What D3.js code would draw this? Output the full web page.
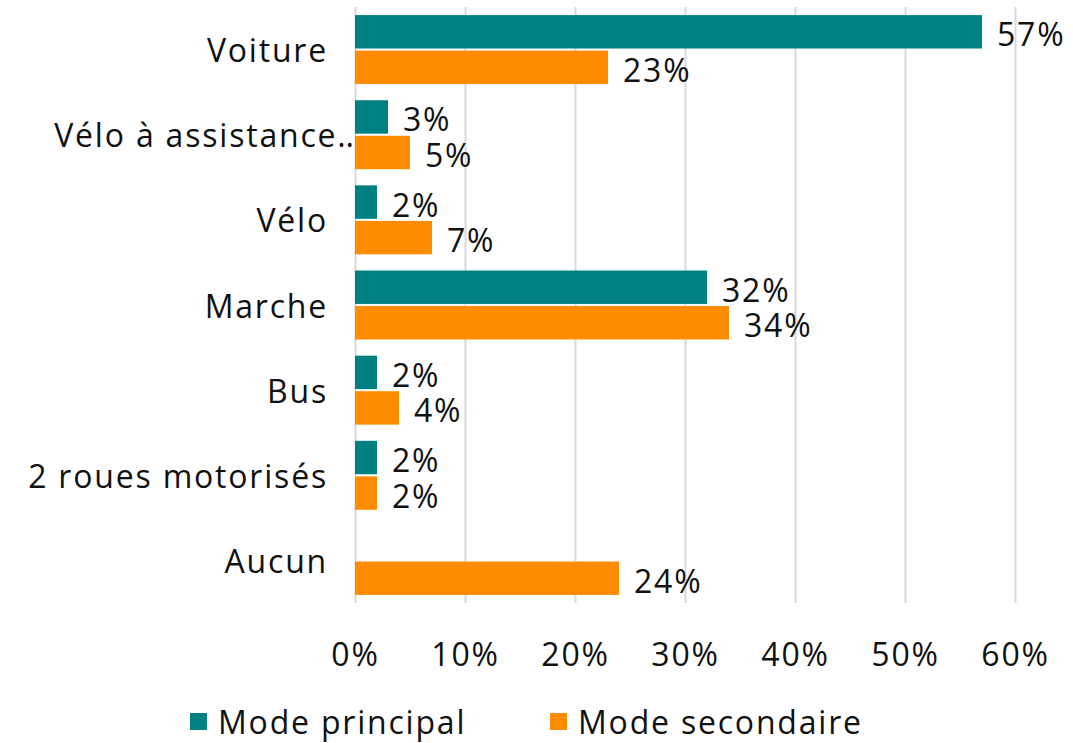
<!DOCTYPE html>
<html lang="fr">

<head>
  <meta charset="UTF-8">
  <script src="https://d3js.org/d3.v7.min.js"></script>
  <style>
    html, body {
      padding: 0px;
      margin: 0px;
      background-color: white;
    }

    svg text {
      font-family: "Century Gothic", "URW Gothic", "Open Sans", sans-serif;
      font-size: 32px;
      letter-spacing: 1.8px;
      fill: #111;
    }

    .gridlines .tick line {
      stroke: #d9d9d9;
      stroke-width: 2;
    }
  </style>
</head>

<body>
  <svg id="plot-svg" height="743" width="1073"></svg>

  <script>
    // data
    const categories = ["Voiture", "Vélo à assistance…", "Vélo", "Marche", "Bus", "2 roues motorisés", "Aucun"];
    const principal = [57, 3, 2, 32, 2, 2, null];
    const secondaire = [23, 5, 7, 34, 4, 2, 24];
    const seriesNames = ["Mode principal", "Mode secondaire"];
    const seriesColors = ["#008080", "#ff8c00"];
    const xTicks = [0, 10, 20, 30, 40, 50, 60];

    const svg = d3.select("#plot-svg");
    const margin = { top: 7, right: 58, bottom: 140, left: 355 };
    const width = +svg.attr("width");
    const height = +svg.attr("height");

    const x = d3.scaleLinear().domain([0, 60]).range([margin.left, width - margin.right]);
    const y = d3.scaleBand().domain(categories).range([margin.top, height - margin.bottom]).paddingInner(0.19).paddingOuter(0.095);
    const ySub = d3.scaleBand().domain([0, 1]).range([0, y.bandwidth()]).paddingInner(0.06);

    // vertical gridlines (the 0 line doubles as the axis)
    svg.append("g")
      .attr("class", "gridlines")
      .attr("transform", `translate(0, ${height - margin.bottom})`)
      .call(d3.axisBottom(x).tickValues(xTicks).tickSize(-(height - margin.bottom - margin.top)).tickFormat(""))
      .call(g => g.select(".domain").remove());

    // tick labels
    svg.append("g")
      .attr("transform", `translate(0, ${height - margin.bottom})`)
      .call(d3.axisBottom(x).tickValues(xTicks).tickSize(0).tickPadding(40).tickFormat(d => d + "%"))
      .call(g => g.select(".domain").remove())
      .call(g => g.selectAll("text").attr("font-size", null).attr("font-family", null).attr("fill", null));

    // category labels
    svg.append("g").selectAll("text")
      .data(categories)
      .join("text")
      .attr("x", (d, i) => i === 1 ? 364 : 328)
      .attr("y", d => y(d) + y.bandwidth() / 2)
      .attr("text-anchor", "end")
      .attr("dominant-baseline", "central")
      .text(d => d);

    const series = [principal, secondaire];
    series.forEach((vals, s) => {
      const rows = categories.map((c, i) => ({ cat: c, v: vals[i] })).filter(d => d.v !== null);
      const g = svg.append("g");
      g.selectAll("rect")
        .data(rows)
        .join("rect")
        .attr("x", x(0))
        .attr("y", d => y(d.cat) + ySub(s))
        .attr("width", d => x(d.v) - x(0))
        .attr("height", ySub.bandwidth())
        .attr("fill", seriesColors[s]);
      g.selectAll("text")
        .data(rows)
        .join("text")
        .attr("x", d => x(d.v) + 15)
        .attr("y", d => y(d.cat) + ySub(s) + ySub.bandwidth() / 2 + 2)
        .attr("dominant-baseline", "central")
        .text(d => d.v + "%");
    });

    // legend
    const legendX = [190, 550];
    const legend = svg.append("g");
    seriesNames.forEach((name, i) => {
      legend.append("rect")
        .attr("x", legendX[i])
        .attr("y", 713)
        .attr("width", 17)
        .attr("height", 17)
        .attr("fill", seriesColors[i]);
      legend.append("text")
        .attr("x", legendX[i] + 28)
        .attr("y", 721)
        .attr("dominant-baseline", "central")
        .text(name);
    });
  </script>
</body>

</html>
